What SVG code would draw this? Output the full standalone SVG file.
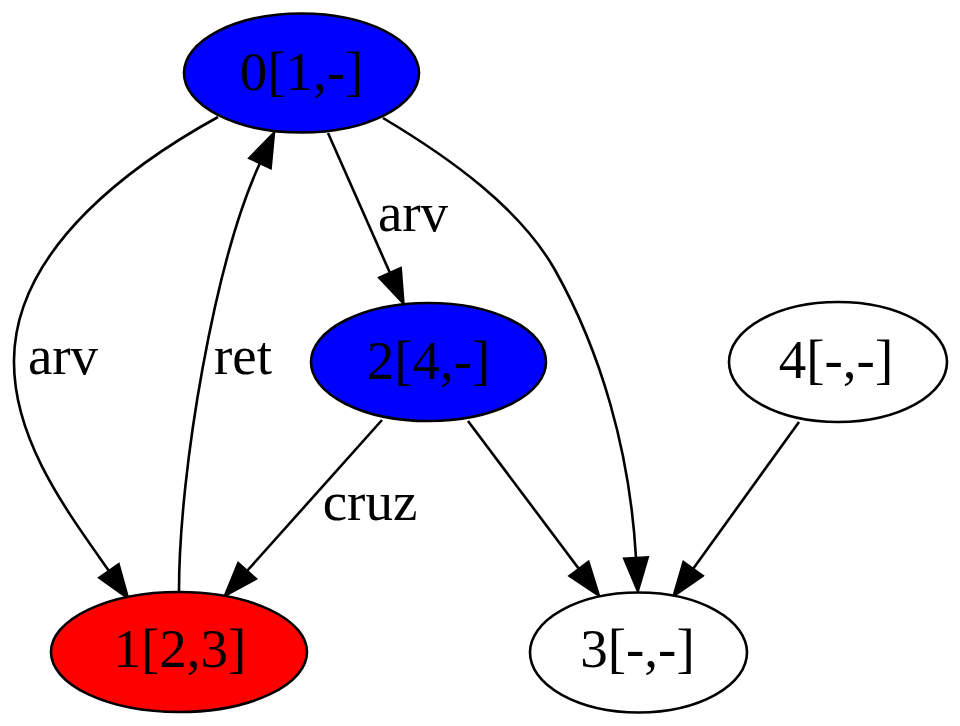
<svg xmlns="http://www.w3.org/2000/svg" width="960" height="726" viewBox="0 0 960 726">
<style>
.node ellipse{stroke:#000;stroke-width:2.6}
.lbl{font-family:"Liberation Serif","Times New Roman",serif;font-size:55px;fill:#000;text-anchor:middle}
.edge{fill:none;stroke:#000;stroke-width:2.6;marker-end:url(#arrow)}
</style>
<defs>
<marker id="arrow" markerUnits="userSpaceOnUse" viewBox="-2 -2 37 27.4" refX="0" refY="11.7" markerWidth="37" markerHeight="27.4" orient="auto" overflow="visible">
<path d="M0,0 L33,11.7 L0,23.4 Z" fill="#000" stroke="#000" stroke-width="2.6"/>
</marker>
</defs>
<rect width="960" height="726" fill="#fff"/>
<g id="connectors">
<g id="e0-1"><path class="edge" d="M218,117 C140,160 15,245 14,360 C13,440 67,511 109,571"/><text class="lbl" x="63" y="374">arv</text></g>
<g id="e1-0"><path class="edge" d="M179,591 C179,470 215,260 260,163"/><text class="lbl" x="243" y="374">ret</text></g>
<g id="e0-2"><path class="edge" d="M328,133 L390,273"/><text class="lbl" x="413" y="231">arv</text></g>
<g id="e0-3"><path class="edge" d="M383,118 C450,158 520,208 555,270 C600,350 630,450 636,558"/></g>
<g id="e2-1"><path class="edge" d="M382,420 L247,571"/><text class="lbl" x="370" y="520">cruz</text></g>
<g id="e2-3"><path class="edge" d="M468,421 L579,569"/></g>
<g id="e4-3"><path class="edge" d="M799,422 L693,569"/></g>
</g>
<g id="node0" class="node"><ellipse cx="301.5" cy="73" rx="117.5" ry="59.5" fill="#0000ff"/><text class="lbl" x="301.5" y="90">0[1,-]</text></g>
<g id="node2" class="node"><ellipse cx="428.5" cy="362" rx="117.5" ry="59" fill="#0000ff"/><text class="lbl" x="428.5" y="379">2[4,-]</text></g>
<g id="node4" class="node"><ellipse cx="838" cy="362" rx="109" ry="60" fill="#fff"/><text class="lbl" x="836" y="378">4[-,-]</text></g>
<g id="node3" class="node"><ellipse cx="638.5" cy="652.5" rx="108.5" ry="60" fill="#fff"/><text class="lbl" x="637.5" y="667">3[-,-]</text></g>
<g id="node1" class="node"><ellipse cx="179" cy="652" rx="128" ry="60" fill="#ff0000"/><text class="lbl" x="180" y="667">1[2,3]</text></g>
</svg>
